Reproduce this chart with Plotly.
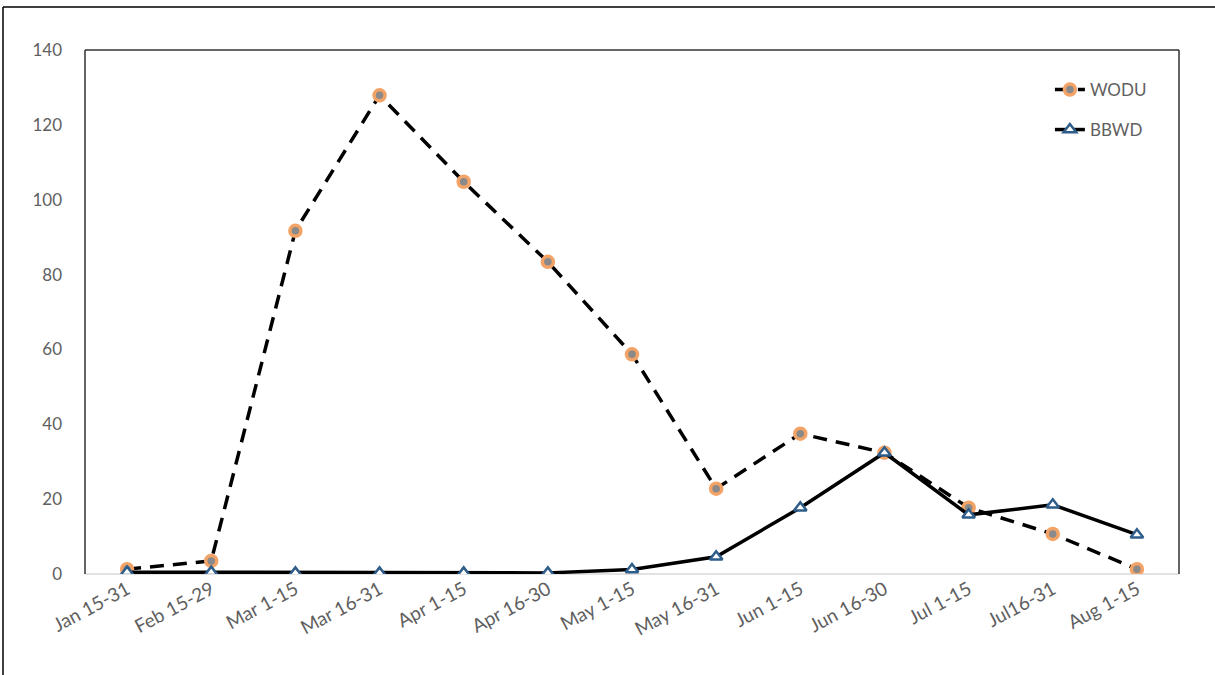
import plotly.graph_objects as go

categories = ["Jan 15-31", "Feb 15-29", "Mar 1-15", "Mar 16-31", "Apr 1-15", "Apr 16-30",
              "May 1-15", "May 16-31", "Jun 1-15", "Jun 16-30", "Jul 1-15", "Jul16-31", "Aug 1-15"]
wodu = [1.3, 3.5, 91.7, 127.9, 104.8, 83.4, 58.7, 22.8, 37.5, 32.4, 17.7, 10.7, 1.3]
bbwd = [0.5, 0.5, 0.3, 0.3, 0.3, 0.3, 1.2, 4.6, 17.7, 32.4, 15.8, 18.5, 10.5]
y_ticks = [0, 20, 40, 60, 80, 100, 120, 140]

font_fam = "Lato, 'Open Sans', Arial, sans-serif"
grey = "#5f5f5f"

fig = go.Figure()
fig.add_trace(go.Scatter(
    x=categories, y=wodu, name="WODU", mode="lines+markers", legend="legend",
    line=dict(color="black", width=3.5, dash="14px,9px"),
    marker=dict(symbol="circle", size=11, color="#8a8a8a",
                line=dict(color="#F2A365", width=3.5)),
))
fig.add_trace(go.Scatter(
    x=categories, y=bbwd, name="BBWD", mode="lines+markers", legend="legend2",
    line=dict(color="black", width=3.5),
    marker=dict(symbol="triangle-up", size=11, color="white",
                line=dict(color="#2F5D8A", width=2.5)),
))

leg_common = dict(xanchor="left", yanchor="middle", bgcolor="rgba(0,0,0,0)",
                  font=dict(size=17, color=grey, family=font_fam))

fig.update_layout(
    width=1215, height=675,
    margin=dict(l=85, r=36, t=50, b=101),
    paper_bgcolor="white", plot_bgcolor="white",
    font=dict(family=font_fam, size=17, color=grey),
    showlegend=True,
    legend=dict(x=0.882, y=(574 - 90) / 524, **leg_common),
    legend2=dict(x=0.882, y=(574 - 130) / 524, **leg_common),
    xaxis=dict(type="category", range=[-0.5, 12.5], showgrid=False,
               showline=False, ticks="", tickangle=-28,
               tickfont=dict(size=19, color=grey), zeroline=False),
    yaxis=dict(range=[0, 140], tickvals=y_ticks, showgrid=False,
               showline=False, ticks="", zeroline=False,
               tickfont=dict(size=17, color=grey), ticklabelstandoff=22),
    shapes=[
        dict(type="line", xref="paper", yref="paper", x0=0, x1=0, y0=0, y1=1,
             line=dict(color="#333333", width=1.5)),
        dict(type="line", xref="paper", yref="paper", x0=0, x1=1, y0=1, y1=1,
             line=dict(color="#333333", width=1.5)),
        dict(type="line", xref="paper", yref="paper", x0=1, x1=1, y0=0, y1=1,
             line=dict(color="#333333", width=1.5)),
        dict(type="line", xref="paper", yref="paper", x0=0, x1=1, y0=0, y1=0,
             line=dict(color="#d9d9d9", width=1.5), layer="below"),
        dict(type="line", xref="paper", yref="paper",
             x0=(3 - 85) / 1094, x1=(3 - 85) / 1094, y0=-0.25, y1=(574 - 7) / 524,
             line=dict(color="black", width=1.5)),
        dict(type="line", xref="paper", yref="paper",
             x0=(3 - 85) / 1094, x1=1.05, y0=(574 - 7) / 524, y1=(574 - 7) / 524,
             line=dict(color="black", width=1.5)),
    ],
)

fig.write_html("out.html", config={"displayModeBar": False},
               post_script="document.body.style.margin='0';document.body.style.padding='0';")
